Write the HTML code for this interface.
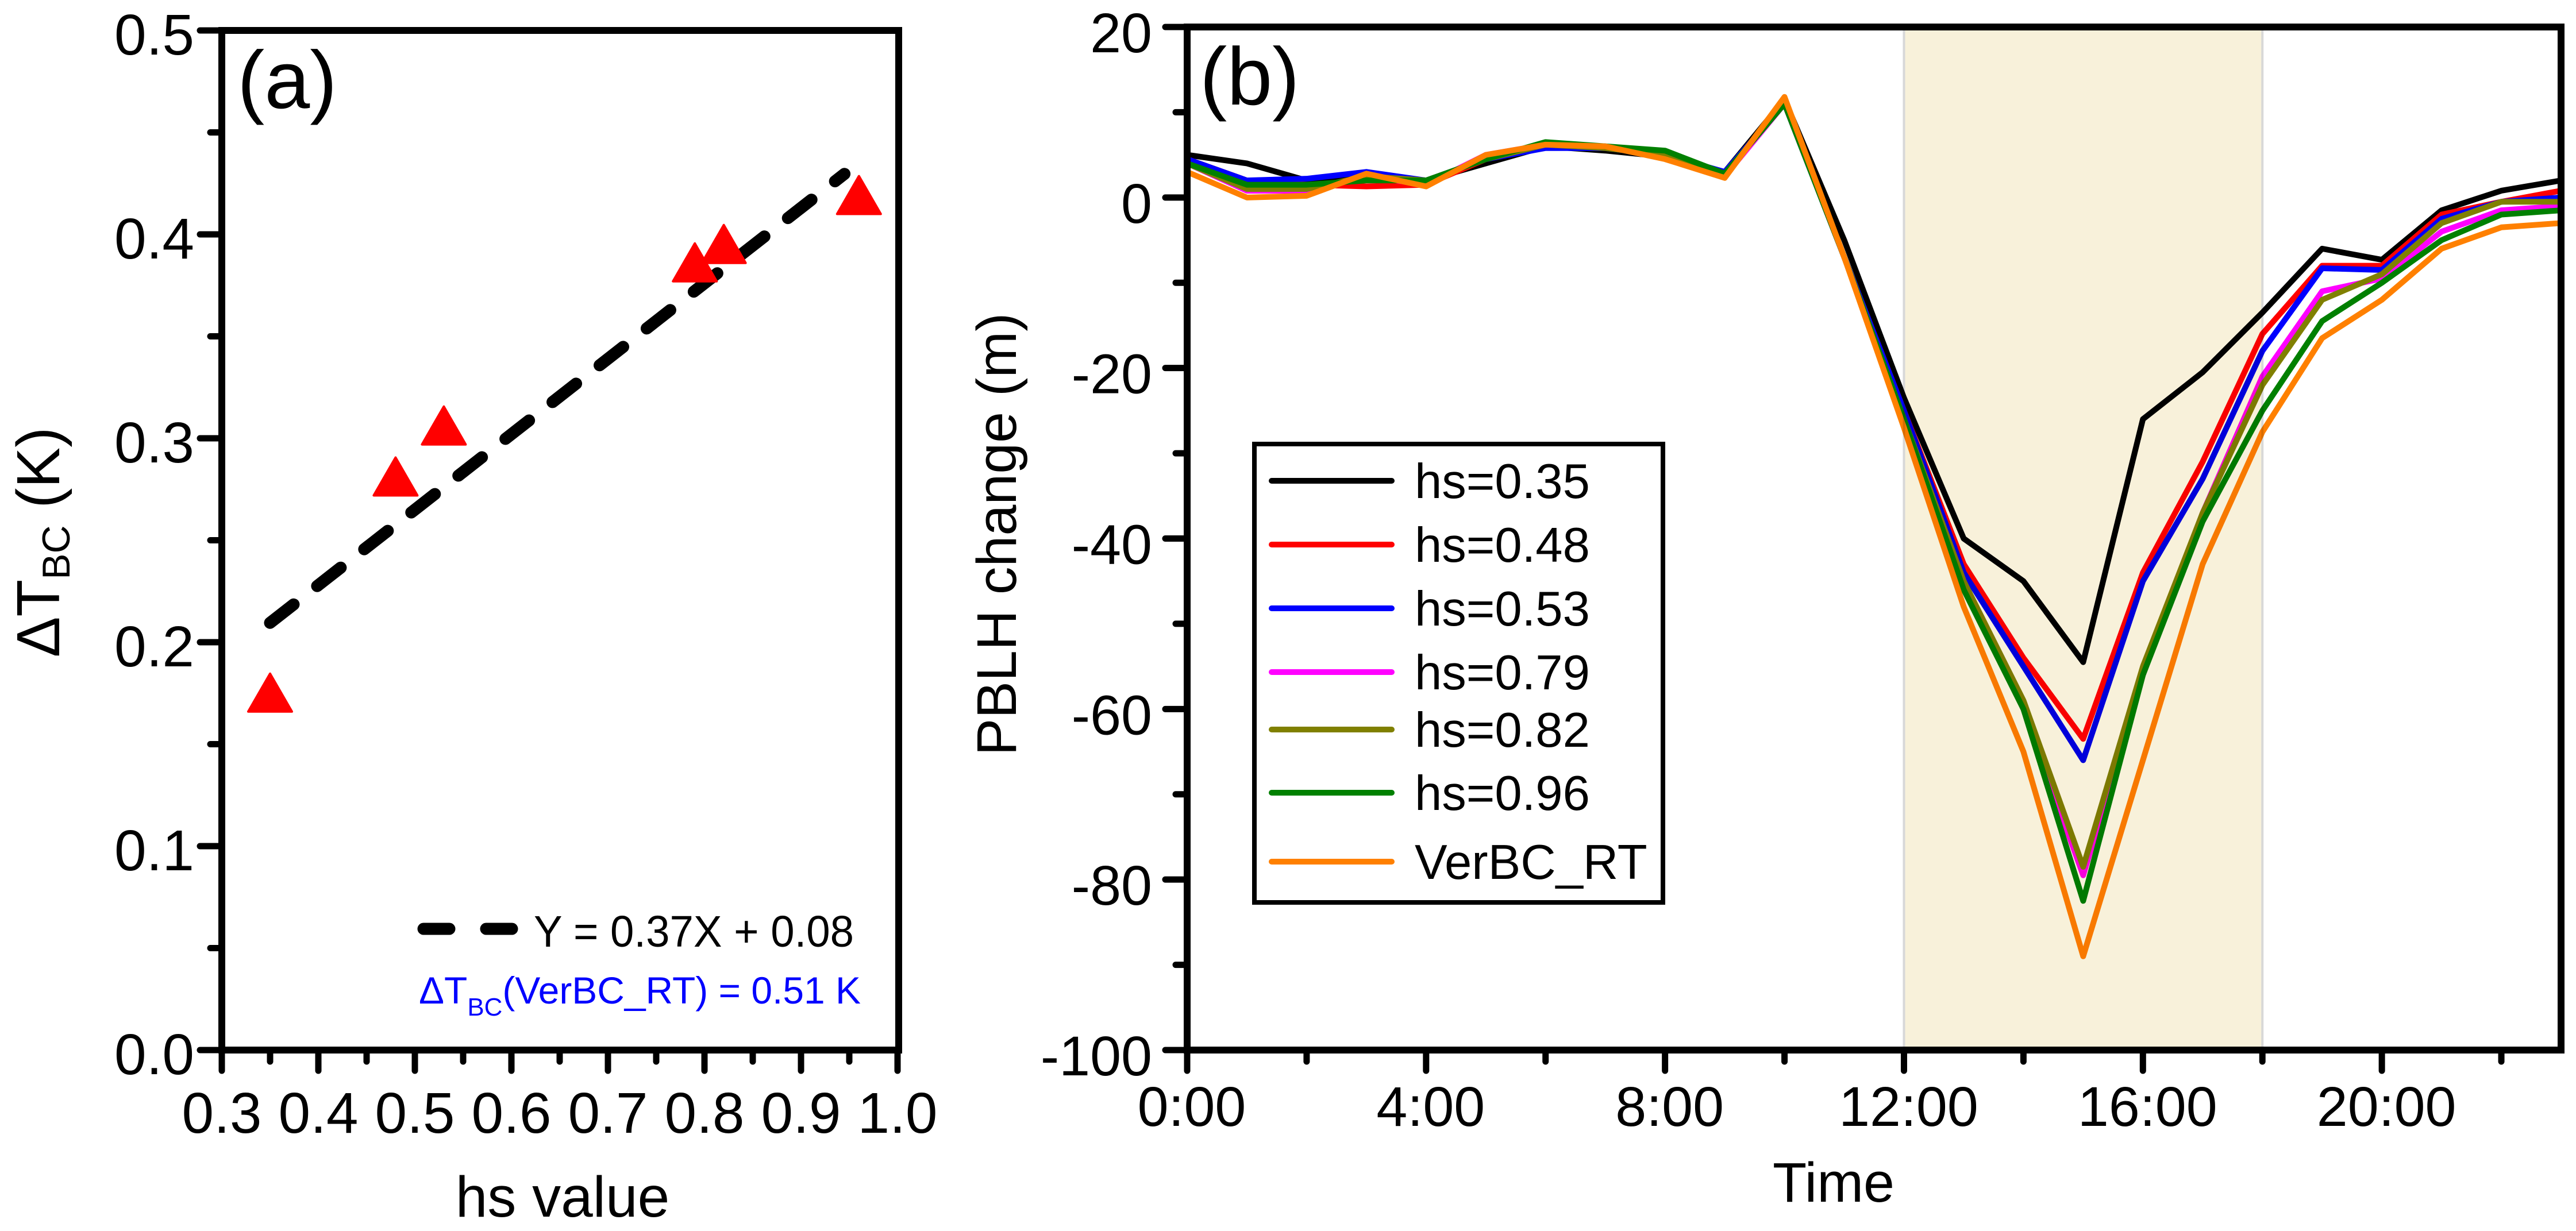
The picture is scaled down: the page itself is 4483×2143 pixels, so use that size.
<!DOCTYPE html>
<html><head><meta charset="utf-8"><style>
html,body{margin:0;padding:0;background:#fff;}
svg{display:block;}
text{font-family:"Liberation Sans",Arial,sans-serif;}
</style></head><body>
<svg id="fig" xmlns="http://www.w3.org/2000/svg" width="4483" height="2143" viewBox="0 0 4483 2143">
<g id="pa"></g>
<g id="pb"></g>
</svg>
<script>
// ---- Panel (a) data ----
const hsValues = [0.35, 0.48, 0.53, 0.79, 0.82, 0.96];
const dTbc = [0.175, 0.281, 0.306, 0.386, 0.395, 0.419];
const fitSlope = 0.37, fitIntercept = 0.08;
const fitRange = [0.35, 0.945];
const aXTicks = ["0.3","0.4","0.5","0.6","0.7","0.8","0.9","1.0"];
const aYTicks = ["0.0","0.1","0.2","0.3","0.4","0.5"];

// ---- Panel (b) data ----
const hours = [0,1,2,3,4,5,6,7,8,9,10,11,12,13,14,15,16,17,18,19,20,21,22,23];
const seriesNames = ["hs=0.35","hs=0.48","hs=0.53","hs=0.79","hs=0.82","hs=0.96","VerBC_RT"];
const seriesColors = ["#000000","#ff0000","#0000ff","#ff00ff","#808000","#008000","#ff8000"];
const s035 = [5,4,2,2.5,2,4,6,5.5,4.8,3,11.5,-5,-23.5,-40,-45,-54.5,-26,-20.5,-13.5,-6,-7.3,-1.5,0.8,2];
const s048 = [4.5,2,1.5,1.3,1.5,4.5,6,6,5,2.5,11.5,-7,-25,-43,-54,-63.5,-44,-31,-16,-8,-8,-2,-0.5,0.8];
const s053 = [4.5,2,2.2,3,2,4.5,5.8,5.8,5,3,11,-7,-25,-44,-55,-66,-45,-33,-18,-8.3,-8.5,-2.5,-0.5,0];
const s079 = [4,0.8,0.8,2.5,1.5,5,6.2,6,5,2.5,11,-7,-26,-45,-60,-79.5,-56,-37,-21,-11,-9.5,-4,-1.5,-1];
const s082 = [4,1,1,2.5,2,4.5,6.2,5.8,5,2.5,11.5,-7,-26,-45,-59,-78.5,-55,-37,-22,-12,-9,-3,-0.5,-0.5];
const s096 = [4,1.5,1.5,2,2,4.5,6.5,6,5.5,2.8,11,-7,-26,-46,-60,-82.5,-56,-38,-25,-14.5,-10,-5,-2,-1.5];
const sVer = [3,0,0.2,2.8,1.3,5,6.2,6,4.5,2.3,11.8,-7,-27,-48,-65,-89,-66,-43,-27.5,-16.5,-12,-6,-3.5,-3];
const bXTickLabels = ["0:00","4:00","8:00","12:00","16:00","20:00"];
const bXTickHours = [0,4,8,12,16,20];
const bYTicks = [20,0,-20,-40,-60,-80,-100];
const shadeRange = [12,18];

const NS = "http://www.w3.org/2000/svg";
function mk(parent, tag, attrs, txt){
  const e = document.createElementNS(NS, tag);
  for (const k in attrs) e.setAttribute(k, attrs[k]);
  if (txt !== undefined) e.textContent = txt;
  parent.appendChild(e);
  return e;
}

// ===== Panel A =====
const pa = document.getElementById('pa');
const aL=386, aR=1564, aT=53, aB=1828;
const ax = v => aL + (v-0.3)/0.7*(1562-386);
const ay = v => aB - v/0.5*(aB-aT);

for (let i=0;i<=14;i++){
  const v=0.3+i*0.05, x=ax(v), major=i%2===0;
  const t=mk(pa,'line',{x1:x,y1:aB,x2:x,y2:aB+(major?36:20),stroke:'#000','stroke-width':11,'stroke-linecap':'round'});
  
  
}
aXTicks.forEach((s,i)=>{
  const t=mk(pa,'text',{x:ax(0.3+i*0.1),y:1972,'font-size':100,'text-anchor':'middle'},s);
  
  
});
for (let i=0;i<=10;i++){
  const v=i*0.05, y=ay(v), major=i%2===0;
  const t=mk(pa,'line',{x1:aL,y1:y,x2:aL-(major?38:20),y2:y,stroke:'#000','stroke-width':11,'stroke-linecap':'round'});
  
  
}
aYTicks.forEach((s,i)=>{
  const t=mk(pa,'text',{x:338,y:ay(i*0.1)+42,'font-size':100,'text-anchor':'end'},s);
  
  
});
let fr=mk(pa,'rect',{x:aL,y:aT,width:aR-aL,height:aB-aT,fill:'none',stroke:'#000','stroke-width':12});



let fl=mk(pa,'line',{x1:ax(fitRange[0]),y1:ay(fitSlope*fitRange[0]+fitIntercept),x2:ax(fitRange[1]),y2:ay(fitSlope*fitRange[1]+fitIntercept),stroke:'#000','stroke-width':21,'stroke-linecap':'round','stroke-dasharray':'52 52'});



hsValues.forEach((h,i)=>{
  const cx=ax(h), cy=ay(dTbc[i]);
  const p=mk(pa,'polygon',{points:`${cx},${cy-34} ${cx-38},${cy+32} ${cx+38},${cy+32}`,fill:'#ff0000',stroke:'#ff0000','stroke-width':4,'stroke-linejoin':'round'});
  
  
});

let la=mk(pa,'text',{x:413,y:188,'font-size':142},'(a)');


let ll=mk(pa,'line',{x1:737,y1:1617,x2:891,y2:1617,stroke:'#000','stroke-width':21,'stroke-linecap':'round','stroke-dasharray':'45 64'});


let lt=mk(pa,'text',{x:929,y:1648,'font-size':77,textLength:557,lengthAdjust:'spacingAndGlyphs'},'Y = 0.37X + 0.08');


let bt=mk(pa,'text',{x:729,y:1747,'font-size':66,fill:'#0000ff',textLength:769,lengthAdjust:'spacingAndGlyphs'});


bt.innerHTML='ΔT<tspan font-size="44" dy="21">BC</tspan><tspan dy="-21">(VerBC_RT) = 0.51 K</tspan>';
let yl=mk(pa,'text',{x:0,y:0,'font-size':106,'text-anchor':'middle',transform:'translate(103,944) rotate(-90)'});


yl.innerHTML='ΔT<tspan font-size="68" dy="18">BC</tspan><tspan dy="-18"> (K)</tspan>';
let xl=mk(pa,'text',{x:979,y:2118,'font-size':100,'text-anchor':'middle'},'hs value');



// ===== Panel B =====
const pb = document.getElementById('pb');
const bL=2066, bR=4457, bT=47, bB=1828;
const bx = h => bL + h*(bR-bL)/23;
const by = v => bB - (v+100)/120*(bB-bT);

const allSeries=[s035,s048,s053,s079,s082,s096,sVer];
allSeries.forEach((s,k)=>{
  const pts=hours.map((h,i)=>bx(h)+','+by(s[i])).join(' ');
  const pl=mk(pb,'polyline',{points:pts,fill:'none',stroke:seriesColors[k],'stroke-width':10,'stroke-linejoin':'round'});
  
  
});
let sh=mk(pb,'rect',{x:bx(shadeRange[0]),y:bT,width:bx(shadeRange[1])-bx(shadeRange[0]),height:bB-bT,fill:'#f8f1da',stroke:'#d8d8d8','stroke-width':4,style:'mix-blend-mode:multiply'});



for (let h=0;h<=22;h+=2){
  const major=h%4===0;
  const t=mk(pb,'line',{x1:bx(h),y1:bB,x2:bx(h),y2:bB+(major?36:20),stroke:'#000','stroke-width':11,'stroke-linecap':'round'});
  
  
}
bXTickLabels.forEach((s,i)=>{
  const t=mk(pb,'text',{x:bx(bXTickHours[i])+8,y:1960,'font-size':97,'text-anchor':'middle'},s);
  
  
});
for (let v=20; v>=-100; v-=10){
  const major=v%20===0;
  const t=mk(pb,'line',{x1:bL,y1:by(v),x2:bL-(major?38:20),y2:by(v),stroke:'#000','stroke-width':11,'stroke-linecap':'round'});
  
  
}
bYTicks.forEach(v=>{
  const t=mk(pb,'text',{x:2005,y:by(v)+44,'font-size':97,'text-anchor':'end'},String(v));
  
  
});
let fb=mk(pb,'rect',{x:bL,y:bT,width:bR-bL,height:bB-bT,fill:'none',stroke:'#000','stroke-width':12});



let lb=mk(pb,'text',{x:2088,y:182,'font-size':142},'(b)');


let ylb=mk(pb,'text',{x:0,y:0,'font-size':97,'text-anchor':'middle',transform:'translate(1768,930) rotate(-90)'},'PBLH change (m)');


let xlb=mk(pb,'text',{x:3191,y:2092,'font-size':97,'text-anchor':'middle'},'Time');



const lg=mk(pb,'g',{});


let lbox=mk(lg,'rect',{x:2183,y:773,width:711,height:798,fill:'#fff',stroke:'#000','stroke-width':8});


const rowY=[837,948,1059,1170,1270,1380,1500];
seriesNames.forEach((n,k)=>{
  const g=mk(lg,'g',{});
  
  
  mk(g,'line',{x1:2213,y1:rowY[k],x2:2422,y2:rowY[k],stroke:seriesColors[k],'stroke-width':10,'stroke-linecap':'round'});
  mk(g,'text',{x:2462,y:rowY[k]+30,'font-size':85},n);
});
</script>
</body></html>
